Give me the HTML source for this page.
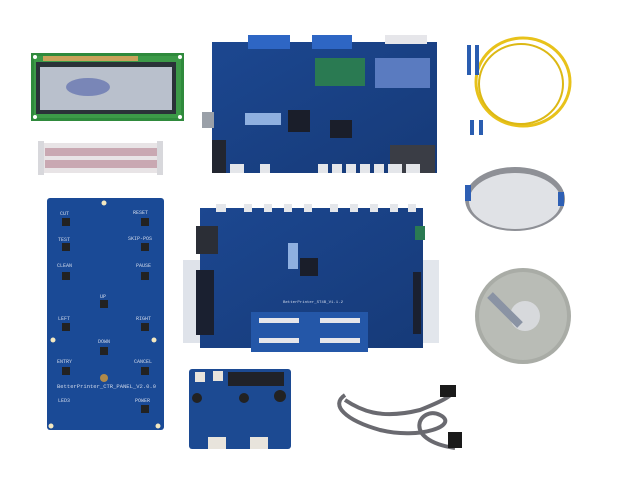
<!DOCTYPE html>
<html><head><meta charset="utf-8"><style>
html,body{margin:0;padding:0;background:#fff;width:617px;height:479px;overflow:hidden}
svg{display:block}
text{font-family:"Liberation Mono",monospace;fill:#cfd8ea;font-size:5px}
</style></head><body>
<svg width="617" height="479" viewBox="0 0 617 479">
<defs>
<linearGradient id="pcb" x1="0" y1="0" x2="1" y2="1"><stop offset="0" stop-color="#1c4790"/><stop offset="1" stop-color="#163a78"/></linearGradient>
</defs>
<rect x="31" y="53" width="153" height="68" fill="#2f8a3c"/>
<rect x="34" y="56" width="147" height="62" fill="#3c9a48"/>
<rect x="43" y="56" width="95" height="5" fill="#c9a25a"/>
<rect x="36" y="62" width="140" height="52" fill="#2a3238"/>
<rect x="40" y="67" width="132" height="43" fill="#b9c0cc"/>
<ellipse cx="88" cy="87" rx="22" ry="9" fill="#4e5fa8" opacity=".6"/>
<circle cx="35" cy="57" r="2" fill="#fff"/><circle cx="35" cy="117" r="2" fill="#fff"/><circle cx="180" cy="57" r="2" fill="#fff"/><circle cx="180" cy="117" r="2" fill="#fff"/>
<rect x="38" y="143" width="125" height="30" fill="#e8e4e6"/>
<rect x="45" y="148" width="112" height="8" fill="#c9a8b2"/>
<rect x="45" y="160" width="112" height="8" fill="#c9a8b2"/>
<rect x="38" y="141" width="6" height="34" fill="#d8d8dc"/><rect x="157" y="141" width="6" height="34" fill="#d8d8dc"/>
<rect x="212" y="42" width="225" height="131" fill="url(#pcb)"/>
<rect x="202" y="112" width="12" height="16" fill="#9aa0a8"/>
<rect x="248" y="35" width="42" height="14" fill="#2e66c4"/><rect x="312" y="35" width="40" height="14" fill="#2e66c4"/>
<rect x="385" y="35" width="42" height="9" fill="#e6e6ea"/>
<rect x="315" y="58" width="50" height="28" fill="#2a7a52"/>
<rect x="375" y="58" width="55" height="30" fill="#5a7bc0"/>
<rect x="390" y="145" width="45" height="28" fill="#3a3d45"/>
<rect x="245" y="113" width="36" height="12" fill="#8fb0e0"/>
<rect x="288" y="110" width="22" height="22" fill="#1a1e2a"/><rect x="330" y="120" width="22" height="18" fill="#1a1e2a"/>
<rect x="212" y="140" width="14" height="33" fill="#222630"/>
<g fill="#e4e6ea"><rect x="230" y="164" width="14" height="9"/><rect x="260" y="164" width="10" height="9"/><rect x="318" y="164" width="10" height="9"/><rect x="332" y="164" width="10" height="9"/><rect x="346" y="164" width="10" height="9"/><rect x="360" y="164" width="10" height="9"/><rect x="374" y="164" width="10" height="9"/><rect x="388" y="164" width="14" height="9"/><rect x="406" y="164" width="14" height="9"/></g>
<ellipse cx="523" cy="82" rx="47" ry="44" fill="none" stroke="#e8c21a" stroke-width="3"/>
<ellipse cx="521" cy="84" rx="42" ry="40" fill="none" stroke="#dcb814" stroke-width="2"/>
<rect x="467" y="45" width="4" height="30" fill="#2a5db0"/><rect x="475" y="45" width="4" height="30" fill="#2a5db0"/>
<rect x="470" y="120" width="4" height="15" fill="#2a5db0"/><rect x="479" y="120" width="4" height="15" fill="#2a5db0"/>
<ellipse cx="515" cy="199" rx="50" ry="32" fill="#8e9096"/>
<ellipse cx="515" cy="201" rx="46" ry="28" fill="#e0e2e6"/>
<rect x="465" y="185" width="6" height="16" fill="#2e5fb4"/><rect x="558" y="192" width="6" height="14" fill="#2e5fb4"/>
<circle cx="523" cy="316" r="48" fill="#a9aca6"/>
<circle cx="523" cy="316" r="44" fill="#b9bcb6"/>
<circle cx="525" cy="316" r="15" fill="#d7d9dc"/>
<path d="M490 295 L520 325" stroke="#8a93a4" stroke-width="8"/>
<rect x="47" y="198" width="117" height="232" rx="3" fill="#1a4a96"/>
<g fill="#f4e8c0"><circle cx="104" cy="203" r="2.5"/><circle cx="53" cy="340" r="2.5"/><circle cx="154" cy="340" r="2.5"/><circle cx="51" cy="426" r="2.5"/><circle cx="158" cy="426" r="2.5"/></g>
<circle cx="104" cy="378" r="4" fill="#b08a4a"/>
<g fill="#222"><rect x="62" y="218" width="8" height="8"/><rect x="141" y="218" width="8" height="8"/><rect x="62" y="243" width="8" height="8"/><rect x="141" y="243" width="8" height="8"/><rect x="62" y="272" width="8" height="8"/><rect x="141" y="272" width="8" height="8"/><rect x="100" y="300" width="8" height="8"/><rect x="62" y="323" width="8" height="8"/><rect x="141" y="323" width="8" height="8"/><rect x="100" y="347" width="8" height="8"/><rect x="62" y="367" width="8" height="8"/><rect x="141" y="367" width="8" height="8"/><rect x="141" y="405" width="8" height="8"/></g>
<text x="60" y="215">CUT</text><text x="133" y="214">RESET</text>
<text x="58" y="241">TEST</text><text x="128" y="240">SKIP-POS</text>
<text x="57" y="267">CLEAN</text><text x="136" y="267">PAUSE</text>
<text x="100" y="298">UP</text><text x="58" y="320">LEFT</text><text x="136" y="320">RIGHT</text>
<text x="98" y="343">DOWN</text><text x="57" y="363">ENTRY</text><text x="134" y="363">CANCEL</text>
<text x="57" y="388" style="font-size:5.5px">BetterPrinter_CTR_PANEL_V2.0.0</text>
<text x="58" y="402">LED3</text><text x="135" y="402">POWER</text>
<rect x="183" y="260" width="30" height="83" fill="#dfe3ea"/>
<rect x="409" y="260" width="30" height="83" fill="#e2e6ec"/>
<rect x="200" y="208" width="223" height="140" fill="url(#pcb)"/>
<g fill="#e4e6ea"><rect x="216" y="204" width="10" height="8"/><rect x="244" y="204" width="8" height="8"/><rect x="264" y="204" width="8" height="8"/><rect x="284" y="204" width="8" height="8"/><rect x="304" y="204" width="8" height="8"/><rect x="330" y="204" width="8" height="8"/><rect x="350" y="204" width="8" height="8"/><rect x="370" y="204" width="8" height="8"/><rect x="390" y="204" width="8" height="8"/><rect x="408" y="204" width="8" height="8"/></g>
<rect x="196" y="270" width="18" height="65" fill="#1a2030"/>
<rect x="196" y="226" width="22" height="28" fill="#2b2e36"/>
<rect x="288" y="243" width="10" height="26" fill="#8fb0e0"/>
<rect x="300" y="258" width="18" height="18" fill="#1a1e2a"/>
<rect x="413" y="272" width="8" height="62" fill="#1a2030"/>
<rect x="415" y="226" width="10" height="14" fill="#2a7a52"/>
<rect x="251" y="312" width="117" height="40" fill="#2457a8"/>
<g fill="#e6e6ea"><rect x="259" y="318" width="40" height="5"/><rect x="320" y="318" width="40" height="5"/><rect x="259" y="338" width="40" height="5"/><rect x="320" y="338" width="40" height="5"/></g>
<text x="283" y="303" style="font-size:4px">BetterPrinter_ST4B_V1.1.2</text>
<rect x="189" y="369" width="102" height="80" rx="3" fill="#1c4a92"/>
<rect x="228" y="372" width="56" height="14" fill="#202228"/>
<rect x="195" y="372" width="10" height="10" fill="#e8e4dc"/><rect x="213" y="371" width="10" height="10" fill="#e8e4dc"/>
<rect x="208" y="437" width="18" height="12" fill="#e8e4dc"/><rect x="250" y="437" width="18" height="12" fill="#e8e4dc"/>
<circle cx="197" cy="398" r="5" fill="#222"/><circle cx="244" cy="398" r="5" fill="#222"/><circle cx="280" cy="396" r="6" fill="#222"/>
<path d="M345 395 C330 405,345 420,380 430 C420 440,460 425,440 415 C420 405,400 440,455 448 M345 400 C360 410,380 420,420 410 C440 402,455 395,450 392" fill="none" stroke="#6a6a70" stroke-width="4"/>
<rect x="440" y="385" width="16" height="12" fill="#1a1a1a"/>
<rect x="448" y="432" width="14" height="16" fill="#1a1a1a"/>
</svg>
</body></html>
